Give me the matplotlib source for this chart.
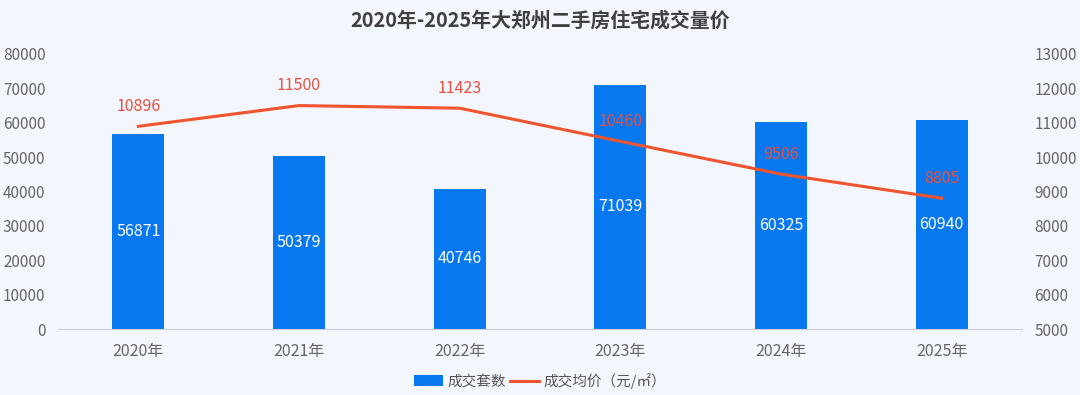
import matplotlib.pyplot as plt
from matplotlib.lines import Line2D
from matplotlib.patches import Patch

plt.rcParams['font.family'] = ['Noto Sans CJK SC', 'DejaVu Sans']

years = ['2020年', '2021年', '2022年', '2023年', '2024年', '2025年']
volume = [56871, 50379, 40746, 71039, 60325, 60940]
price = [10896, 11500, 11423, 10460, 9506, 8805]

bg = '#f3f6fc'
bar_color = '#0878f0'
line_color = '#f0552f'
tick_color = '#666666'

fig = plt.figure(figsize=(10.8, 3.95), dpi=100, facecolor=bg)
ax = fig.add_axes([58 / 1080, 1 - 329 / 395, 964 / 1080, 275 / 395])
ax.set_facecolor(bg)
ax2 = ax.twinx()

x = list(range(len(years)))
bars = ax.bar(x, volume, width=0.325, color=bar_color, zorder=2)
for xi, v in zip(x, volume):
    ax.text(xi, v / 2, str(v), color='white', ha='center', va='center', fontsize=11.5, zorder=3)

ax2.plot(x, price, color=line_color, linewidth=2.2, zorder=4)
for xi, p in zip(x, price):
    ax2.annotate(str(p), (xi, p), xytext=(0, 8), textcoords='offset points',
                 ha='center', va='bottom', color='#e8503f', fontsize=11.5)

ax.set_xlim(-0.5, 5.5)
ax.set_ylim(0, 80000)
ax2.set_ylim(5000, 13000)
ax.set_yticks(range(0, 80001, 10000))
ax2.set_yticks(range(5000, 13001, 1000))
ax.set_xticks(x)
ax.set_xticklabels(years)

for a in (ax, ax2):
    for s in a.spines.values():
        s.set_visible(False)
    a.tick_params(length=0, colors=tick_color, labelsize=11)
ax.spines['bottom'].set_visible(True)
ax.spines['bottom'].set_color('#c8cfdc')
ax.tick_params(axis='y', pad=9)
ax2.tick_params(axis='y', pad=9)
ax.tick_params(axis='x', pad=10, labelsize=11.5)

fig.text(0.5, 1 - 20 / 395, '2020年-2025年大郑州二手房住宅成交量价', ha='center', va='center',
         fontsize=14.3, fontweight='bold', color='#404040')

handles = [Patch(facecolor=bar_color, label='成交套数'),
           Line2D([0], [0], color=line_color, linewidth=2.2, label='成交均价（元/㎡）')]
fig.legend(handles=handles, loc='center', bbox_to_anchor=(0.5, 1 - 381 / 395), ncol=2,
           frameon=False, fontsize=10.5, labelcolor='#555555', handlelength=2.0,
           handleheight=0.8, columnspacing=0.3, handletextpad=0.3)

fig.savefig('out.png', dpi=100, facecolor=bg)
